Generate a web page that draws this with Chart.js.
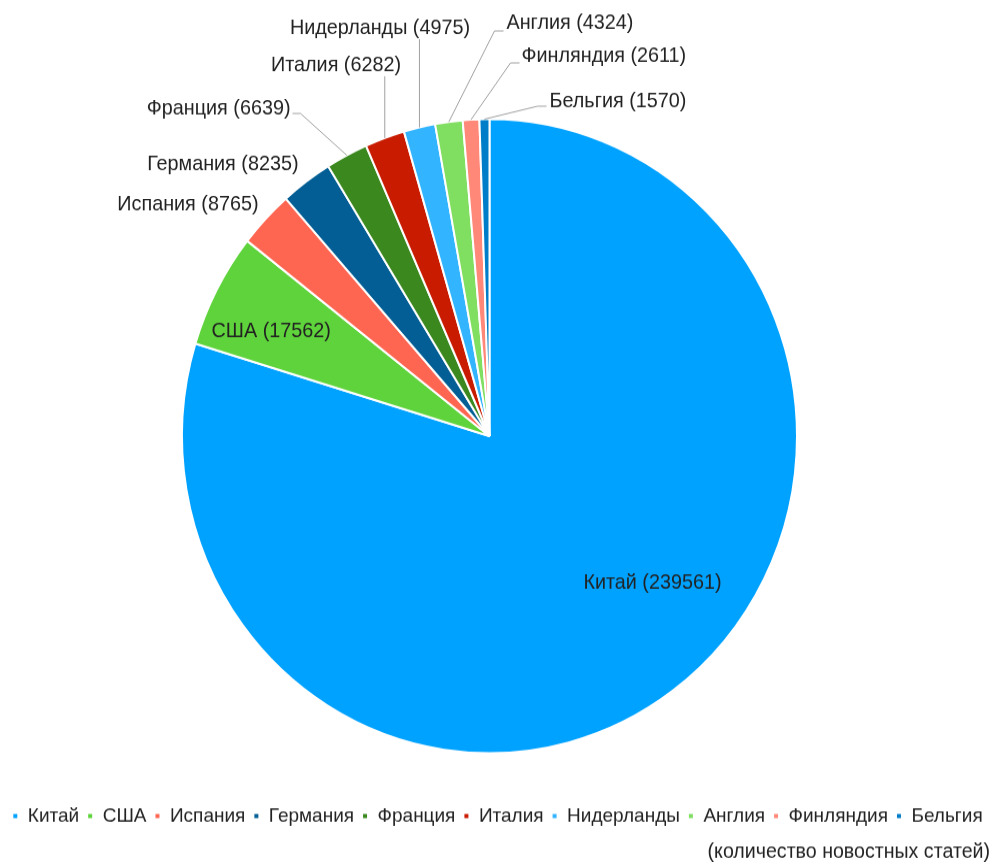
<!DOCTYPE html>
<html><head><meta charset="utf-8">
<script src="https://cdn.jsdelivr.net/npm/chart.js@4.4.0/dist/chart.umd.min.js"></script>
<style>
html,body{margin:0;padding:0;background:#fff;overflow:hidden}
#wrap{position:absolute;left:0;top:0;width:995px;height:836px;transform:scaleY(1.031);transform-origin:0 0}
</style></head><body>
<div id="wrap"><canvas id="c" width="995" height="836"></canvas></div>
<script>
const categories = ['Китай','США','Испания','Германия','Франция','Италия','Нидерланды','Англия','Финляндия','Бельгия'];
const articleCounts = [239561,17562,8765,8235,6639,6282,4975,4324,2611,1570];
const sliceColors = ['#00a2ff','#5fd33b','#ff6652','#025e94','#3a881e','#c81b00','#33b4ff','#80de60','#ff8878','#007dc8'];
const footnote = '(количество новостных статей)';

const FONT = '"Liberation Sans", Arial, sans-serif';
const FS = 19;
const LABEL_FS = 19.8;
const PIE_CENTER = {x:489.5, y:423};
// label layout: inside labels as fraction of radius; outside labels text anchor relative to center
const labelLayout = [
  {inside:true, fx:0.53, fy:0.465},
  {inside:true, fx:-0.71, fy:-0.33},
  {tx:-231, ty:-224, align:'right'},
  {tx:-191, ty:-263, align:'right'},
  {tx:-199, ty:-317, align:'right', ex:-189, ey:-313},
  {tx:-153.5, ty:-359, align:'center', vert:true, gap:10},
  {tx:-109.5, ty:-395, align:'center', vert:true, gap:10},
  {tx:17, ty:-400, align:'left', ex:5, ey:-393},
  {tx:32, ty:-368, align:'left', ex:21, ey:-362},
  {tx:60, ty:-324, align:'left', ex:48, ey:-320}
];

const layoutPlugin = {
  id:'pieCenter',
  afterLayout(chart){
    const ca = chart.chartArea;
    ca.right = 2*PIE_CENTER.x - ca.left;
    ca.top = 2*PIE_CENTER.y - ca.bottom;
    ca.width = ca.right - ca.left;
    ca.height = ca.bottom - ca.top;
    chart.boxes.forEach(b => {
      if (b.options && b.options.text === footnote) { b.right -= 5; b.width -= 5; }
    });
  }
};

const labelPlugin = {
  id:'pieLabels',
  afterDatasetsDraw(chart){
    const ctx = chart.ctx;
    const meta = chart.getDatasetMeta(0);
    ctx.save();
    ctx.font = LABEL_FS + 'px ' + FONT;
    ctx.textBaseline = 'middle';
    meta.data.forEach((arc, i) => {
      const p = arc.getProps(['x','y','startAngle','endAngle','outerRadius'], true);
      const L = labelLayout[i];
      const text = categories[i] + ' (' + articleCounts[i] + ')';
      const mid = (p.startAngle + p.endAngle) / 2;
      if (L.inside) {
        ctx.fillStyle = '#222';
        ctx.textAlign = 'center';
        ctx.fillText(text, p.x + L.fx * p.outerRadius, p.y + L.fy * p.outerRadius);
        return;
      }
      const ax = p.x + Math.cos(mid) * p.outerRadius;
      const ay = p.y + Math.sin(mid) * p.outerRadius;
      const tx = p.x + L.tx, ty = p.y + L.ty;
      ctx.strokeStyle = '#a0a0a0';
      ctx.lineWidth = 1;
      if (L.vert) {
        ctx.beginPath();
        ctx.moveTo(ax, ay);
        ctx.lineTo(ax, ty + L.gap);
        ctx.stroke();
      } else if (L.ex !== undefined) {
        const ex = p.x + L.ex, ey = p.y + L.ey;
        ctx.beginPath();
        ctx.moveTo(ax, ay);
        ctx.lineTo(ex, ey);
        ctx.lineTo(ex + (L.align === 'left' ? 9 : -8), ey);
        ctx.stroke();
      }
      ctx.fillStyle = '#222';
      ctx.textAlign = L.align;
      ctx.fillText(text, tx, ty);
    });
    ctx.restore();
  }
};

new Chart(document.getElementById('c'), {
  type:'pie',
  data:{
    labels:categories,
    datasets:[{data:articleCounts, backgroundColor:sliceColors, borderColor:'#ffffff', borderWidth:2, radius:307.5}]
  },
  plugins:[layoutPlugin, labelPlugin],
  options:{
    responsive:false,
    animation:false,
    events:[],
    layout:{padding:0},
    plugins:{
      tooltip:{enabled:false},
      legend:{
        position:'bottom',
        labels:{boxWidth:6, boxHeight:6, padding:8, color:'#222', font:{family:FONT, size:FS}}
      },
      subtitle:{
        display:true, text:footnote, position:'bottom', align:'end',
        color:'#222', font:{family:FONT, size:19.6, weight:'normal'}, padding:{top:3.5,bottom:-2}
      }
    }
  }
});
</script>
</body></html>
